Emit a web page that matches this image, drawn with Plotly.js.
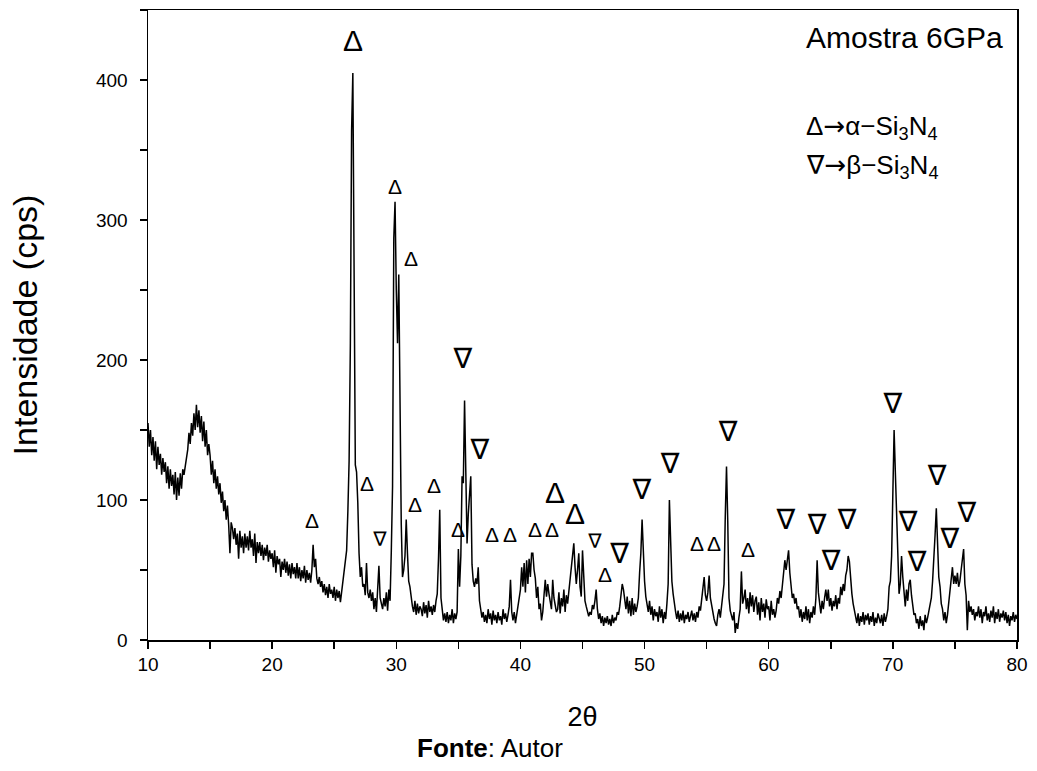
<!DOCTYPE html>
<html>
<head>
<meta charset="utf-8">
<script src="https://cdn.plot.ly/plotly-3.0.1.min.js"></script>
<style>html,body{margin:0;padding:0;background:#fff;}#chart{width:1037px;height:771px;}</style>
</head>
<body>
<div id="chart"></div>
<script>
// 2-theta scan grid
var twoThetaStart = 10.0;
var twoThetaStep = 0.1;

// Intensity (cps), 10 values per degree
var intensity10to20 = [
  155,138,150,132,145,128,142,122,138,125,
  133,118,130,120,127,112,124,108,122,110,
  118,104,120,100,116,103,119,108,122,118,
  124,130,136,148,140,155,146,162,150,168,
  152,164,148,160,142,156,138,150,132,140,
  132,118,128,112,122,108,117,104,112,98,
  106,92,100,86,96,82,62,84,80,72,
  80,68,76,58,78,66,74,62,76,66,
  74,64,78,66,72,60,76,55,70,62,
  70,60,68,57,66,60,68,56,64,58
];
var intensity20to30 = [
  62,52,64,48,60,54,58,45,56,50,
  58,48,56,46,54,44,55,47,52,44,
  55,44,52,42,50,44,53,41,50,43,
  48,41,50,68,52,58,44,40,45,38,
  42,34,40,32,38,30,40,33,36,30,
  38,28,36,30,35,27,34,44,48,56,
  64,92,128,210,364,405,230,125,120,98,
  62,45,52,38,40,32,55,34,30,36,
  28,34,22,30,20,38,53,30,26,22,
  30,24,34,21,36,28,64,110,287,313
];
var intensity30to40 = [
  250,212,261,150,83,45,50,60,86,62,
  42,38,30,24,20,28,18,26,19,24,
  22,17,27,19,25,16,28,20,24,18,
  25,20,28,33,58,93,30,21,14,19,
  13,20,12,18,14,22,12,19,15,20,
  65,38,60,117,112,171,110,69,90,105,
  117,54,42,38,44,40,52,28,20,16,
  20,13,18,12,22,15,19,11,21,14,
  18,12,20,14,17,11,22,15,19,13,
  18,24,43,20,14,20,12,18,24,30
];
var intensity40to50 = [
  36,52,38,55,34,57,40,58,45,62,
  62,50,44,30,38,22,26,14,20,32,
  43,31,40,33,28,22,43,30,25,20,
  22,34,19,30,24,36,20,32,26,35,
  40,48,58,69,52,40,50,62,38,31,
  64,40,28,24,21,17,20,18,25,22,
  28,36,22,15,19,12,17,10,16,12,
  17,11,15,10,18,12,16,14,20,18,
  24,34,40,36,28,22,31,19,28,17,
  30,18,26,20,24,30,48,62,86,58
];
var intensity50to60 = [
  42,31,26,20,28,18,24,14,22,17,
  20,13,24,16,22,12,20,15,26,40,
  100,67,42,33,24,20,15,21,13,19,
  14,21,12,18,15,20,13,17,21,14,
  19,13,20,16,24,21,30,36,45,32,
  28,34,46,30,24,20,15,12,10,18,
  22,16,24,28,40,88,124,85,30,21,
  18,14,20,5,12,8,16,22,49,26,
  30,36,22,30,19,34,24,32,20,28,
  31,18,27,14,30,20,26,16,29,22
];
var intensity60to70 = [
  24,14,28,18,22,16,21,30,26,35,
  30,38,45,57,50,60,64,48,36,30,
  33,26,30,22,24,16,22,13,20,15,
  24,14,22,12,20,16,24,18,30,57,
  34,24,19,28,22,30,36,28,36,24,
  30,21,28,24,32,22,30,26,38,32,
  40,35,46,50,60,56,42,33,26,22,
  18,12,19,10,17,13,20,11,18,14,
  19,11,17,13,20,10,16,12,19,15,
  12,18,10,19,13,17,22,38,42,60
];
var intensity70to80 = [
  105,150,120,86,55,33,40,60,45,30,
  24,36,28,40,43,32,22,18,19,12,
  15,8,17,10,14,7,18,12,16,20,
  24,30,42,55,75,94,70,45,38,26,
  22,14,20,12,18,26,34,46,52,40,
  46,40,48,38,42,50,58,65,40,32,
  7,28,20,24,18,22,14,20,17,24,
  16,22,12,20,17,24,14,19,13,21,
  16,24,12,20,15,22,13,19,16,21,
  14,20,12,18,10,17,14,20,13,18,
  15
];

// Peak labels: alpha-Si3N4 (Δ) and beta-Si3N4 (∇)
var alphaX = [26.51,29.90,31.19,23.21,27.64,31.50,33.04,34.97,37.71,39.16,41.17,42.54,42.79,44.40,46.81,54.22,55.59,58.33];
var alphaY = [426,322,271,84,110,95,109,77,74,74,77,77,103,88,45,67,67,63];
var alphaBig = [1,0,0,0,0,0,0,0,0,0,0,0,1,1,0,0,0,0];
var betaX = [28.69,35.37,36.74,46.00,48.00,49.79,52.05,56.72,61.39,63.89,66.31,65.02,70.01,71.22,71.95,73.56,74.60,75.97];
var betaY = [71,199,134,69,60,106,124,147,84,81,84,55,167,83,54,116,71,89];
var betaBig = [0,1,1,0,1,1,1,1,1,1,1,1,1,1,1,1,1,1];

var xTickVals = [10,20,30,40,50,60,70,80];
var yTickVals = [0,100,200,300,400];

var intensity = [].concat(intensity10to20, intensity20to30, intensity30to40,
  intensity40to50, intensity50to60, intensity60to70, intensity70to80);
var twoTheta = intensity.map(function(_, i){ return +(twoThetaStart + i*twoThetaStep).toFixed(2); });

var FONT = 'Liberation Sans, Arial, DejaVu Sans, sans-serif';
var ARROW = '<span style="font-family:DejaVu Sans">→</span>';

var traces = [
  {x: twoTheta, y: intensity, type: 'scatter', mode: 'lines',
   line: {color: '#000', width: 1.5}, hoverinfo: 'skip', showlegend: false},
  {x: alphaX, y: alphaY, type: 'scatter', mode: 'text',
   text: alphaX.map(function(){return 'Δ';}),
   textfont: {family: FONT, color: '#000', size: alphaBig.map(function(b){return b ? 30 : 21;})},
   textposition: 'middle center', cliponaxis: false, showlegend: false, hoverinfo: 'skip'},
  {x: betaX, y: betaY, type: 'scatter', mode: 'text',
   text: betaX.map(function(){return '∇';}),
   textfont: {family: FONT, color: '#000', size: betaBig.map(function(b){return b ? 28 : 20;})},
   textposition: 'middle center', cliponaxis: false, showlegend: false, hoverinfo: 'skip'}
];

var axisCommon = {
  showgrid: false, zeroline: false, showline: true, mirror: true,
  linecolor: '#000', linewidth: 1.5,
  ticks: 'outside', ticklen: 7, tickwidth: 1.5, tickcolor: '#000',
  tickfont: {family: FONT, size: 19, color: '#000'}
};

var layout = {
  width: 1037, height: 771,
  margin: {l: 148, r: 20, t: 10, b: 131},
  paper_bgcolor: '#fff', plot_bgcolor: '#fff',
  font: {family: FONT, color: '#000'},
  showlegend: false,
  xaxis: Object.assign({}, axisCommon, {
    range: [10, 80], tickmode: 'array', tickvals: xTickVals,
    minor: {dtick: 5, tick0: 10, ticks: 'outside', ticklen: 7, tickwidth: 1.5, tickcolor: '#000', showgrid: false},
    title: {text: '2θ', font: {family: FONT, size: 27, color: '#000'}, standoff: 33}
  }),
  yaxis: Object.assign({}, axisCommon, {
    range: [0, 450], tickmode: 'array', tickvals: yTickVals, ticklabelstandoff: 8,
    minor: {dtick: 50, tick0: 0, ticks: 'outside', ticklen: 7, tickwidth: 1.5, tickcolor: '#000', showgrid: false},
    title: {text: 'Intensidade (cps)', font: {family: FONT, size: 34, color: '#000'}, standoff: 48}
  }),
  annotations: [
    {xref: 'paper', yref: 'paper', x: 0.755, y: 0.956, xanchor: 'left', yanchor: 'middle',
     text: 'Amostra 6GPa', showarrow: false, font: {family: FONT, size: 30, color: '#000'}},
    {xref: 'paper', yref: 'paper', x: 0.755, y: 0.813, xanchor: 'left', yanchor: 'middle',
     text: 'Δ' + ARROW + 'α−Si<sub>3</sub>N<sub>4</sub>', showarrow: false, font: {family: FONT, size: 26, color: '#000'}},
    {xref: 'paper', yref: 'paper', x: 0.755, y: 0.752, xanchor: 'left', yanchor: 'middle',
     text: '∇' + ARROW + 'β−Si<sub>3</sub>N<sub>4</sub>', showarrow: false, font: {family: FONT, size: 26, color: '#000'}},
    {xref: 'paper', yref: 'paper', x: 0.394, y: -0.172, xanchor: 'center', yanchor: 'middle',
     text: '<b>Fonte</b>: Autor', showarrow: false, font: {family: FONT, size: 26, color: '#000'}}
  ]
};

Plotly.newPlot('chart', traces, layout, {displayModeBar: false, staticPlot: true});
</script>
</body>
</html>
